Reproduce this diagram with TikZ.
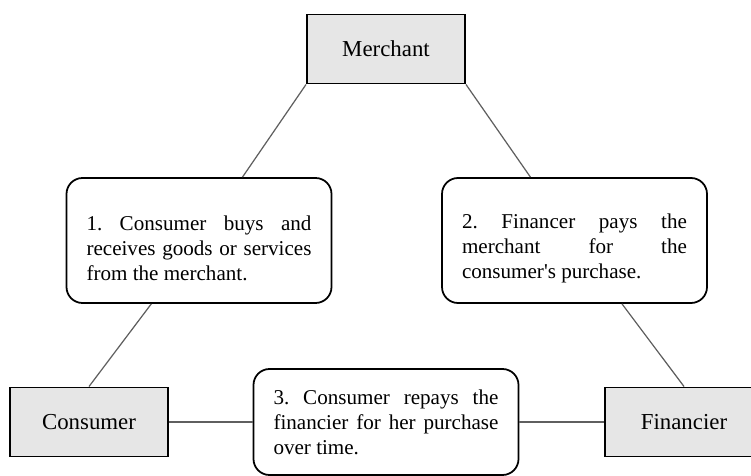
\documentclass[tikz,border=0pt]{standalone}
\usepackage{fontspec}
\setmainfont{Liberation Serif}
\usetikzlibrary{shapes,positioning}
\definecolor{boxgray}{RGB}{230,230,230}
\definecolor{linkgray}{RGB}{95,95,95}
\hyphenpenalty=10000
\frenchspacing

\begin{document}
\begin{tikzpicture}[node distance=3.83cm,
    party/.style={rectangle, draw, line width=1.1pt, fill=boxgray, minimum width=3.16cm, minimum height=1.38cm, font=\fontsize{13}{15}\selectfont},
    step box/.style={rectangle, draw, line width=1pt, fill=white, rounded corners=0.32cm, text width=4.5cm, inner xsep=0.4cm, align=justify, minimum height=2.5cm, font=\fontsize{12}{14.2}\selectfont},
    lower text/.style={execute at begin node={\rule{0pt}{0.62cm}}},
    link/.style={draw=linkgray, line width=0.7pt}]
    \useasboundingbox (0,0) rectangle (15.02,9.5);

    \node[party] (merchant) at (7.72,8.52) {Merchant};

    \node[step box, lower text, below of=merchant, xshift=-3.74cm] (buy) {1. Consumer buys and receives goods or services from the merchant.};
    \node[step box, lower text, below of=merchant, xshift=3.77cm] (pay) {2. Financer pays the merchant for the consumer\textquotesingle s purchase.};

    \node[step box, minimum height=2.12cm, below of=merchant, yshift=-3.63cm] (repay) {3. Consumer repays the financier for her purchase over time.};
    \node[party, left of=repay, xshift=-2.11cm] (consumer) {Consumer};
    \node[party, right of=repay, xshift=2.13cm] (financier) {Financier};

    \draw[link] (merchant.south west) -- (buy);
    \draw[link] (buy) -- (consumer.north);
    \draw[link] (merchant.south east) -- (pay);
    \draw[link] (pay) -- (financier.north);
    \draw[link] (consumer) -- (repay);
    \draw[link] (repay) -- (financier);
\end{tikzpicture}
\end{document}
